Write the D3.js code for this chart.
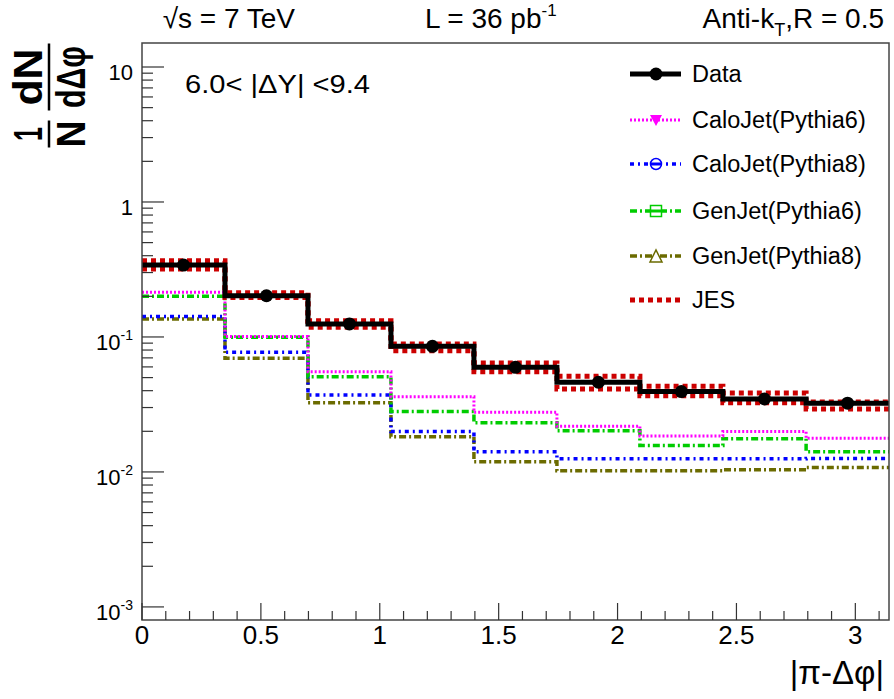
<!DOCTYPE html>
<html>
<head>
<meta charset="utf-8">
<script src="https://cdn.jsdelivr.net/npm/d3@7"></script>
<style>
  body { margin: 0; background: #fff; }
  svg text { font-family: 'Liberation Sans', Arial, sans-serif; }
</style>
</head>
<body>
<div id="chart"></div>
<script>
(function(d3) {

// bin edges of |pi - dphi| (9 bins of pi/9)
var binEdges = [0, 0.349, 0.698, 1.047, 1.396, 1.745, 2.094, 2.443, 2.793, 3.1416];

var dataValues   = [0.341, 0.202, 0.125, 0.0853, 0.0596, 0.0462, 0.0394, 0.0347, 0.0323];
var jesUp        = [0.367, 0.213, 0.132, 0.0888, 0.0642, 0.0512, 0.0432, 0.0385, 0.0330];
var jesDown      = [0.319, 0.196, 0.118, 0.0792, 0.0553, 0.0412, 0.0367, 0.0325, 0.0293];
var caloPythia6  = [0.214, 0.101, 0.0553, 0.0361, 0.0277, 0.0218, 0.0185, 0.0199, 0.0178];
var caloPythia8  = [0.142, 0.0770, 0.0372, 0.0199, 0.0141, 0.0125, 0.0125, 0.0125, 0.0126];
var genPythia6   = [0.200, 0.0995, 0.0508, 0.0280, 0.0231, 0.0202, 0.0157, 0.0176, 0.0141];
var genPythia8   = [0.136, 0.0695, 0.0325, 0.0182, 0.0119, 0.0102, 0.0102, 0.0104, 0.0108];

var xTicks = [0, 0.5, 1, 1.5, 2, 2.5, 3];
var yDecades = [1e-3, 1e-2, 1e-1, 1, 10];
var yTickLabels = [['10', '-3'], ['10', '-2'], ['10', '-1'], ['1', ''], ['10', '']];

var legendLabels = ['Data', 'CaloJet(Pythia6)', 'CaloJet(Pythia8)', 'GenJet(Pythia6)', 'GenJet(Pythia8)', 'JES'];

var width = 894, height = 699;
var left = 142, right = 889, top = 43, bottom = 620;

var svg = d3.select('#chart')
  .append('svg')
  .attr('width', width)
  .attr('height', height);

var x = d3.scaleLinear().domain([0, Math.PI]).range([left, right]);
var y = d3.scaleLog().domain([8.0e-4, 15.06]).range([bottom, top]);

// histogram outline points
function histPoints(vals) {
  var pts = [];
  vals.forEach(function(v, i) {
    pts.push([binEdges[i], v]);
    pts.push([binEdges[i + 1], v]);
  });
  return pts;
}

var line = d3.line()
  .x(function(d) { return x(d[0]); })
  .y(function(d) { return y(d[1]); });

var series = [
  { vals: genPythia8, color: '#6b6b00', width: 3.5, dash: '7,3,2,3' },
  { vals: caloPythia8, color: '#0000ff', width: 3.5, dash: '4,4,2,4' },
  { vals: genPythia6, color: '#00cc00', width: 3.5, dash: '7,3,2,3' },
  { vals: caloPythia6, color: '#ff00ff', width: 3, dash: '2,2' },
  { vals: jesUp, color: '#cc0000', width: 5, dash: '5,4' },
  { vals: jesDown, color: '#cc0000', width: 5, dash: '5,4' },
  { vals: dataValues, color: '#000', width: 5, dash: null }
];

var plot = svg.append('g');

plot.selectAll('path.hist')
  .data(series)
  .enter()
  .append('path')
  .attr('class', 'hist')
  .attr('d', function(d) { return line(histPoints(d.vals)); })
  .attr('fill', 'none')
  .attr('stroke', function(d) { return d.color; })
  .attr('stroke-width', function(d) { return d.width; })
  .attr('stroke-dasharray', function(d) { return d.dash; });

plot.selectAll('circle.pt')
  .data(dataValues)
  .enter()
  .append('circle')
  .attr('class', 'pt')
  .attr('cx', function(d, i) { return x((binEdges[i] + binEdges[i + 1]) / 2); })
  .attr('cy', function(d) { return y(d); })
  .attr('r', 6.5)
  .attr('fill', '#000');

// frame
svg.append('rect')
  .attr('x', left).attr('y', top)
  .attr('width', right - left).attr('height', bottom - top)
  .attr('fill', 'none')
  .attr('stroke', '#444')
  .attr('stroke-width', 1.5);

// x ticks
var xMinor = d3.range(0, 3.15, 0.1);
svg.selectAll('line.xminor')
  .data(xMinor)
  .enter()
  .append('line')
  .attr('x1', function(d) { return x(d); })
  .attr('x2', function(d) { return x(d); })
  .attr('y1', bottom)
  .attr('y2', function(d, i) { return i % 5 === 0 ? bottom - 17 : bottom - 9; })
  .attr('stroke', '#333')
  .attr('stroke-width', 1.2);

svg.selectAll('text.xlab')
  .data(xTicks)
  .enter()
  .append('text')
  .attr('x', function(d) { return x(d); })
  .attr('y', 644)
  .attr('text-anchor', 'middle')
  .attr('font-size', 26)
  .text(function(d) { return d; });

// y ticks
var yMinor = [];
[1e-3, 1e-2, 1e-1, 1, 10].forEach(function(dec) {
  for (var k = 2; k <= 9; k++) {
    if (dec * k < 15) yMinor.push(dec * k);
  }
});
svg.selectAll('line.yminor')
  .data(yMinor)
  .enter()
  .append('line')
  .attr('x1', left).attr('x2', left + 11)
  .attr('y1', function(d) { return y(d); })
  .attr('y2', function(d) { return y(d); })
  .attr('stroke', '#333')
  .attr('stroke-width', 1.2);

svg.selectAll('line.ymajor')
  .data(yDecades)
  .enter()
  .append('line')
  .attr('x1', left).attr('x2', left + 22)
  .attr('y1', function(d) { return y(d); })
  .attr('y2', function(d) { return y(d); })
  .attr('stroke', '#333')
  .attr('stroke-width', 1.2);

var ylab = svg.selectAll('text.ylab')
  .data(yDecades)
  .enter()
  .append('text')
  .attr('x', 133)
  .attr('y', function(d) { return y(d) + 13; })
  .attr('text-anchor', 'end')
  .attr('font-size', 22);
ylab.append('tspan').text(function(d, i) { return yTickLabels[i][0]; });
ylab.append('tspan')
  .attr('font-size', 14)
  .attr('dy', -10)
  .text(function(d, i) { return yTickLabels[i][1]; });

// x title
svg.append('text')
  .attr('x', 884).attr('y', 684)
  .attr('text-anchor', 'end')
  .attr('font-size', 33)
  .text('|\u03c0-\u0394\u03c6|');

// y title (fractions, rotated)
var yt = svg.append('g').attr('transform', 'translate(49,0) rotate(-90)');
var fracs = [
  { cx: -134, num: '1', den: 'N', w: 27, nl: 14, dl: 27 },
  { cx: -77, num: 'dN', den: 'd\u0394\u03c6', w: 67, nl: 57, dl: 62 }
];
fracs.forEach(function(f) {
  yt.append('line')
    .attr('x1', f.cx - f.w / 2).attr('x2', f.cx + f.w / 2)
    .attr('y1', 0).attr('y2', 0)
    .attr('stroke', '#000').attr('stroke-width', 2.5);
  yt.append('text').attr('x', f.cx).attr('y', -7)
    .attr('text-anchor', 'middle').attr('font-size', 40).attr('font-weight', 'bold')
    .attr('textLength', f.nl).attr('lengthAdjust', 'spacingAndGlyphs')
    .text(f.num);
  yt.append('text').attr('x', f.cx).attr('y', 36)
    .attr('text-anchor', 'middle').attr('font-size', 40).attr('font-weight', 'bold')
    .attr('textLength', f.dl).attr('lengthAdjust', 'spacingAndGlyphs')
    .text(f.den);
});

// header
var h1 = svg.append('text').attr('x', 295).attr('y', 28).attr('font-size', 28).attr('text-anchor', 'end');
h1.append('tspan').text('\u221as = 7 TeV');
var h2 = svg.append('text').attr('x', 425).attr('y', 28).attr('font-size', 28);
h2.append('tspan').text('L = 36 pb');
h2.append('tspan').attr('font-size', 17).attr('dy', -12).text('-1');
var h3 = svg.append('text').attr('x', 884).attr('y', 28).attr('font-size', 28).attr('text-anchor', 'end');
h3.append('tspan').text('Anti-k');
h3.append('tspan').attr('font-size', 18).attr('dy', 8).text('T');
h3.append('tspan').attr('dy', -8).text(',R = 0.5');

// region label
svg.append('text')
  .attr('x', 185).attr('y', 93)
  .attr('font-size', 26)
  .attr('textLength', 185)
  .attr('lengthAdjust', 'spacingAndGlyphs')
  .text('6.0< |\u0394Y| <9.4');

// legend
var legendStyles = [
  { color: '#000', width: 5, dash: null, marker: 'circle' },
  { color: '#ff00ff', width: 3, dash: '2,2', marker: 'tridown' },
  { color: '#0000ff', width: 3.5, dash: '4,4,2,4', marker: 'ocircle' },
  { color: '#00cc00', width: 3.5, dash: '7,3,2,3', marker: 'osquare' },
  { color: '#6b6b00', width: 3.5, dash: '7,3,2,3', marker: 'otriangle' },
  { color: '#cc0000', width: 5, dash: '5,4', marker: null }
];
var legendY = [74, 120, 164, 211, 256, 300];

var legend = svg.selectAll('g.legend')
  .data(legendLabels)
  .enter()
  .append('g')
  .attr('class', 'legend')
  .attr('transform', function(d, i) { return 'translate(0,' + legendY[i] + ')'; });

legend.append('line')
  .attr('x1', 630).attr('x2', 681)
  .attr('y1', 0).attr('y2', 0)
  .attr('stroke', function(d, i) { return legendStyles[i].color; })
  .attr('stroke-width', function(d, i) { return legendStyles[i].width; })
  .attr('stroke-dasharray', function(d, i) { return legendStyles[i].dash; });

legend.each(function(d, i) {
  var g = d3.select(this), s = legendStyles[i], cx = 656;
  if (s.marker === 'circle') {
    g.append('circle').attr('cx', cx).attr('cy', 0).attr('r', 6.5).attr('fill', '#000');
  } else if (s.marker === 'tridown') {
    g.append('path').attr('d', 'M' + (cx - 6) + ',-5L' + (cx + 6) + ',-5L' + cx + ',6Z').attr('fill', s.color);
  } else if (s.marker === 'ocircle') {
    g.append('circle').attr('cx', cx).attr('cy', 0).attr('r', 5.5)
      .attr('fill', '#fff').attr('stroke', s.color).attr('stroke-width', 1.5);
    g.append('line').attr('x1', cx - 5).attr('x2', cx + 5).attr('y1', 0).attr('y2', 0)
      .attr('stroke', s.color).attr('stroke-width', 3);
  } else if (s.marker === 'osquare') {
    g.append('rect').attr('x', cx - 5.5).attr('y', -5.5).attr('width', 11).attr('height', 11)
      .attr('fill', '#fff').attr('stroke', s.color).attr('stroke-width', 1.5);
    g.append('line').attr('x1', cx - 5).attr('x2', cx + 5).attr('y1', 0).attr('y2', 0)
      .attr('stroke', s.color).attr('stroke-width', 3);
  } else if (s.marker === 'otriangle') {
    g.append('path').attr('d', 'M' + (cx - 6) + ',6L' + (cx + 6) + ',6L' + cx + ',-6Z')
      .attr('fill', '#fff').attr('stroke', s.color).attr('stroke-width', 1.5);
  }
});

legend.append('text')
  .attr('x', 692)
  .attr('y', 8)
  .attr('font-size', 23.5)
  .text(function(d) { return d; });

})(window.d3);
</script>
</body>
</html>
